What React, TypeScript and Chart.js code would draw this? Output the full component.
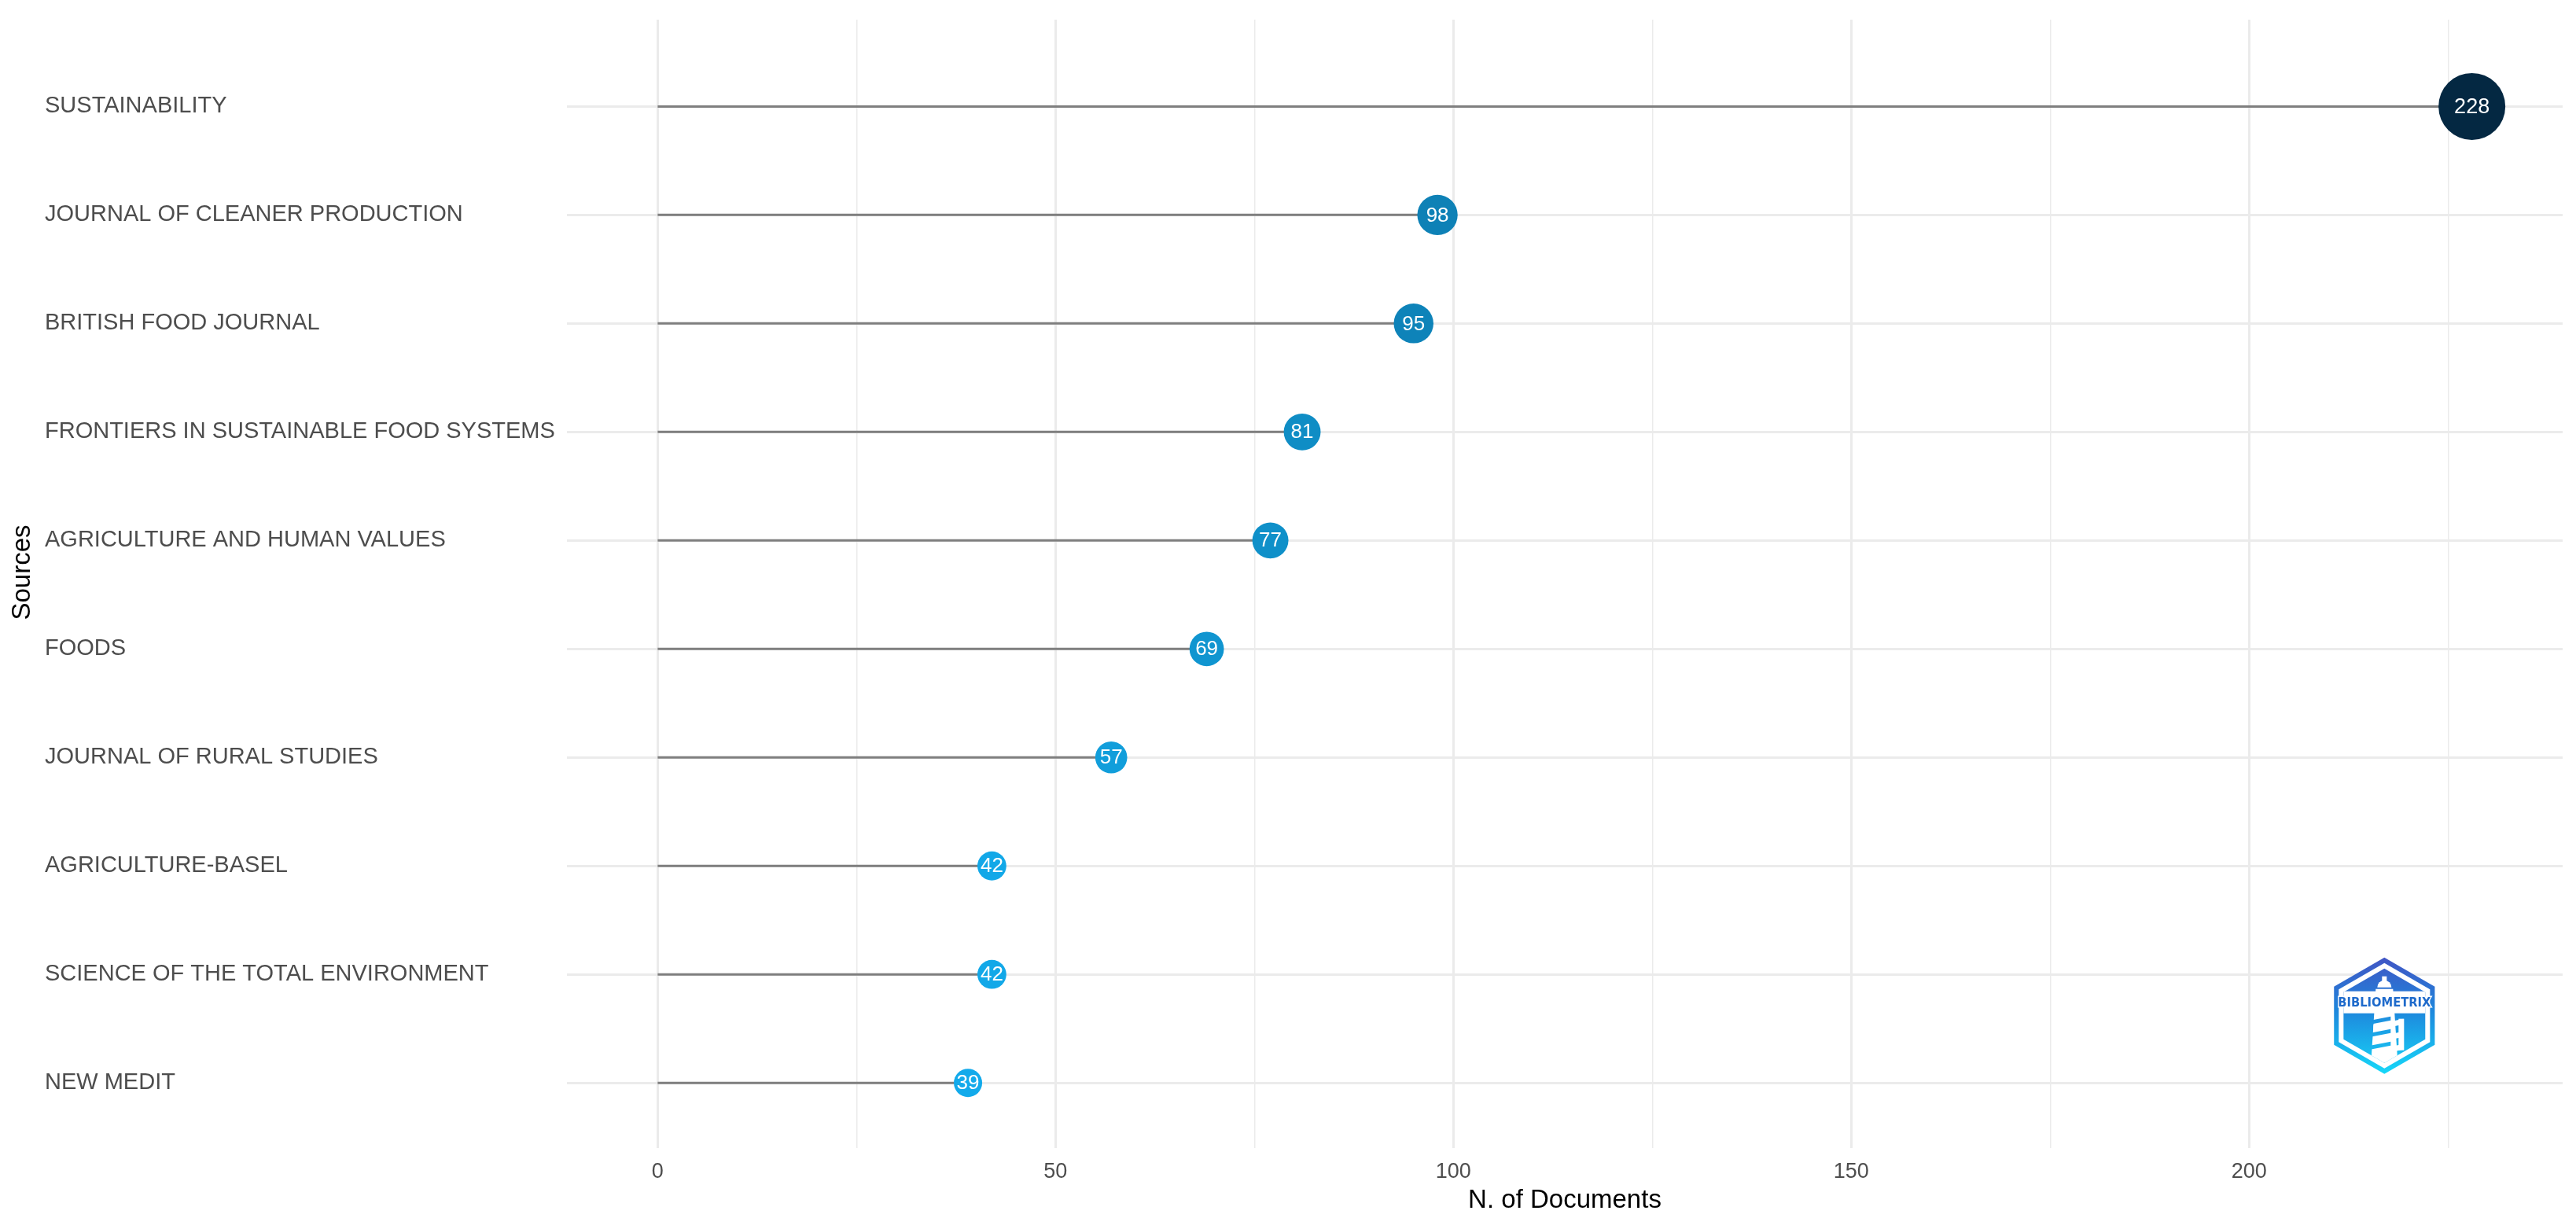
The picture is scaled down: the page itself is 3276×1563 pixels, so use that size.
import React, { useEffect, useRef } from "react";
import { Chart, registerables } from "chart.js";

Chart.register(...registerables);

const sources = [
  "SUSTAINABILITY",
  "JOURNAL OF CLEANER PRODUCTION",
  "BRITISH FOOD JOURNAL",
  "FRONTIERS IN SUSTAINABLE FOOD SYSTEMS",
  "AGRICULTURE AND HUMAN VALUES",
  "FOODS",
  "JOURNAL OF RURAL STUDIES",
  "AGRICULTURE-BASEL",
  "SCIENCE OF THE TOTAL ENVIRONMENT",
  "NEW MEDIT",
];
const documents = [228, 98, 95, 81, 77, 69, 57, 42, 42, 39];
const xTickValues = [0, 25, 50, 75, 100, 125, 150, 175, 200, 225];
const xTickLabels = ["0", "", "50", "", "100", "", "150", "", "200", ""];
const yTitle = "Sources";
const xTitle = "N. of Documents";

const FONT = '"Liberation Sans", Arial, sans-serif';
const lowColor = [18, 170, 235];
const highColor = [4, 40, 66];
const minR = 18;
const maxR = 42.5;

const vMin = Math.min(...documents);
const vMax = Math.max(...documents);
const frac = (v: number) => (v - vMin) / (vMax - vMin);
const radiusFor = (v: number) => minR + (maxR - minR) * frac(v);
const colorFor = (v: number) => {
  const t = frac(v);
  const c = lowColor.map((lo, k) => Math.round(lo + (highColor[k] - lo) * t));
  return `rgb(${c[0]},${c[1]},${c[2]})`;
};

function hexPath(ctx: CanvasRenderingContext2D, cx: number, cy: number, R: number) {
  ctx.beginPath();
  for (let k = 0; k < 6; k++) {
    const a = -Math.PI / 2 + (k * Math.PI) / 3;
    const px = cx + R * Math.cos(a);
    const py = cy + R * Math.sin(a);
    if (k === 0) ctx.moveTo(px, py);
    else ctx.lineTo(px, py);
  }
  ctx.closePath();
}

const labelPlugin = {
  id: "bubbleLabels",
  afterDatasetsDraw(chart: any) {
    const meta = chart.getDatasetMeta(0);
    const ctx = chart.ctx as CanvasRenderingContext2D;
    ctx.save();
    ctx.fillStyle = "#ffffff";
    ctx.textAlign = "center";
    ctx.textBaseline = "middle";
    meta.data.forEach((el: any, i: number) => {
      ctx.font = `${documents[i] === vMax ? 27 : 26}px ${FONT}`;
      ctx.fillText(String(documents[i]), el.x, el.y + 1);
    });
    ctx.restore();
  },
};

const yTitlePlugin = {
  id: "yTitle",
  afterDraw(chart: any) {
    const ctx = chart.ctx as CanvasRenderingContext2D;
    ctx.save();
    ctx.translate(29, 728);
    ctx.rotate(-Math.PI / 2);
    ctx.fillStyle = "#000000";
    ctx.font = `33px ${FONT}`;
    ctx.textAlign = "center";
    ctx.textBaseline = "middle";
    ctx.fillText(yTitle, 0, 0);
    ctx.restore();
  },
};

const logoPlugin = {
  id: "logo",
  afterDraw(chart: any) {
    const ctx = chart.ctx as CanvasRenderingContext2D;
    const cx = chart.scales.x.getPixelForValue(217);
    const cy = chart.scales.y.getPixelForValue(8.38);
    const grad = ctx.createLinearGradient(0, cy - 74, 0, cy + 74);
    grad.addColorStop(0, "#4155C4");
    grad.addColorStop(0.45, "#1E86DC");
    grad.addColorStop(1, "#16D8F9");
    ctx.save();
    hexPath(ctx, cx, cy, 74);
    ctx.fillStyle = grad;
    ctx.fill();
    hexPath(ctx, cx, cy, 67);
    ctx.fillStyle = "#ffffff";
    ctx.fill();
    hexPath(ctx, cx, cy, 60);
    ctx.fillStyle = grad;
    ctx.fill();
    ctx.save();
    hexPath(ctx, cx, cy, 60);
    ctx.clip();
    ctx.fillStyle = "#ffffff";
    ctx.fillRect(cx - 80, cy - 31, 160, 28);
    ctx.beginPath();
    ctx.moveTo(cx - 11, cy - 34);
    ctx.lineTo(cx + 11, cy - 34);
    ctx.lineTo(cx + 17, cy + 60);
    ctx.lineTo(cx - 17, cy + 60);
    ctx.closePath();
    ctx.fill();
    ctx.beginPath();
    ctx.arc(cx, cy - 36, 9, Math.PI, 0);
    ctx.fill();
    ctx.fillRect(cx - 3, cy - 50, 6, 8);
    const bars = [cy + 8, cy + 24, cy + 40];
    bars.forEach((by) => {
      ctx.beginPath();
      ctx.moveTo(cx - 14, by + 4);
      ctx.lineTo(cx + 24, by - 4);
      ctx.lineTo(cx + 24, by + 3);
      ctx.lineTo(cx - 14, by + 11);
      ctx.closePath();
      ctx.fill();
    });
    ctx.fillRect(cx + 18, cy + 4, 7, 40);
    ctx.fillStyle = grad;
    [cy + 2, cy + 18, cy + 34].forEach((sy) => {
      ctx.beginPath();
      ctx.moveTo(cx - 18, sy + 4);
      ctx.lineTo(cx + 8, sy - 1);
      ctx.lineTo(cx + 8, sy + 4);
      ctx.lineTo(cx - 18, sy + 9);
      ctx.closePath();
      ctx.fill();
    });
    ctx.restore();
    ctx.font = `bold 16px "DejaVu Sans", ${FONT}`;
    ctx.textAlign = "center";
    ctx.textBaseline = "middle";
    ctx.lineWidth = 3;
    ctx.strokeStyle = "#ffffff";
    ctx.strokeText("BIBLIOMETRIX", cx, cy - 16, 118);
    ctx.fillStyle = "#1E6ACB";
    ctx.fillText("BIBLIOMETRIX", cx, cy - 16, 118);
    ctx.restore();
  },
};

export default function App() {
  const canvasRef = useRef<HTMLCanvasElement | null>(null);

  useEffect(() => {
    const canvas = canvasRef.current;
    if (!canvas) return;

    const segmentData: any[] = [];
    documents.forEach((v, i) => {
      segmentData.push({ x: 0, y: i });
      segmentData.push({ x: v, y: i });
      segmentData.push({ x: null, y: null });
    });

    const chart = new Chart(canvas, {
      type: "scatter",
      data: {
        datasets: [
          {
            type: "scatter",
            data: documents.map((v, i) => ({ x: v, y: i })),
            pointRadius: (c: any) => radiusFor(documents[c.dataIndex] ?? vMin),
            pointHoverRadius: (c: any) => radiusFor(documents[c.dataIndex] ?? vMin),
            pointBackgroundColor: (c: any) => colorFor(documents[c.dataIndex] ?? vMin),
            backgroundColor: (c: any) => colorFor(documents[c.dataIndex] ?? vMin),
            pointBorderWidth: 0,
            borderWidth: 0,
            clip: false,
            order: 0,
          } as any,
          {
            type: "line",
            data: segmentData,
            borderColor: "#7F7F7F",
            borderWidth: 3,
            pointRadius: 0,
            pointHoverRadius: 0,
            spanGaps: false,
            fill: false,
            order: 1,
          } as any,
        ],
      },
      options: {
        responsive: false,
        animation: false,
        events: [],
        layout: { autoPadding: false, padding: { left: 57, right: 17, top: 25, bottom: 0 } },
        plugins: {
          legend: { display: false },
          tooltip: { enabled: false },
        },
        scales: {
          x: {
            type: "linear",
            position: "bottom",
            min: -11.4,
            max: 239.4,
            afterBuildTicks: (scale: any) => {
              scale.ticks = xTickValues.map((value) => ({ value }));
            },
            afterFit: (scale: any) => {
              scale.height = 103;
              scale.paddingLeft = 0;
              scale.paddingRight = 0;
            },
            ticks: {
              autoSkip: false,
              maxRotation: 0,
              padding: 14,
              color: "#4D4D4D",
              font: { family: FONT, size: 27 },
              callback: (_v: any, idx: number) => xTickLabels[idx],
            },
            grid: {
              color: "#EBEBEB",
              lineWidth: (c: any) => (c.tick && c.tick.value % 50 === 0 ? 3 : 1.5),
              drawTicks: false,
            },
            border: { display: false },
            title: {
              display: true,
              text: xTitle,
              color: "#000000",
              font: { family: FONT, size: 33 },
              padding: { top: 0, bottom: 16 },
            },
          },
          y: {
            type: "linear",
            reverse: true,
            min: -0.8,
            max: 9.6,
            afterBuildTicks: (scale: any) => {
              scale.ticks = sources.map((_s, i) => ({ value: i }));
            },
            afterFit: (scale: any) => {
              scale.width = 664;
              scale.paddingTop = 0;
              scale.paddingBottom = 0;
            },
            ticks: {
              autoSkip: false,
              crossAlign: "far",
              color: "#4D4D4D",
              font: { family: FONT, size: 29 },
              callback: (_v: any, idx: number) => sources[idx],
            },
            grid: {
              color: "#EBEBEB",
              lineWidth: 3,
              drawTicks: false,
            },
            border: { display: false },
            title: { display: false },
          },
        },
      },
      plugins: [labelPlugin, yTitlePlugin, logoPlugin],
    } as any);

    return () => {
      chart.destroy();
    };
  }, []);

  return (
    <div style={{ position: "absolute", left: 0, top: 0, width: 3276, height: 1563, background: "#ffffff" }}>
      <canvas ref={canvasRef} width={3276} height={1563} style={{ display: "block" }} />
    </div>
  );
}
